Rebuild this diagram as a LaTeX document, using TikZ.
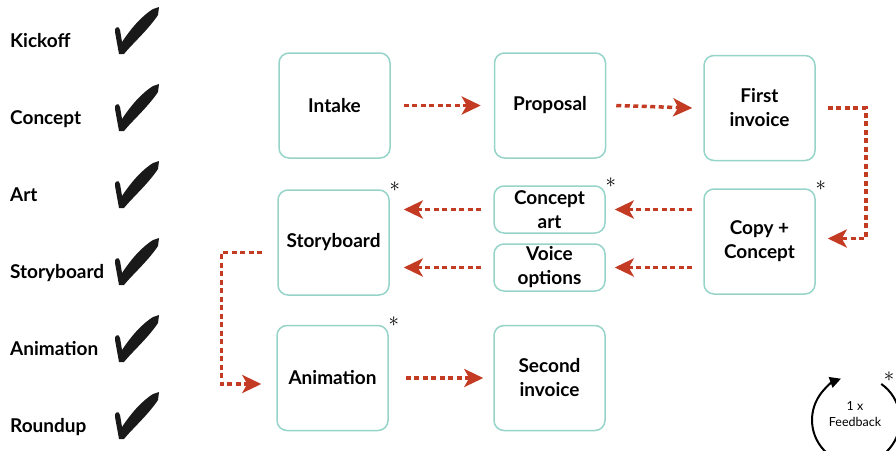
\documentclass[tikz,border=0pt]{standalone}
\usepackage{fontspec}
\setmainfont{Lato}
\usetikzlibrary{arrows.meta}
\definecolor{boxteal}{RGB}{150,212,202}
\definecolor{flowred}{RGB}{194,59,34}
\tikzset{tick/.pic={
\fill[black!90] (-1,2) -- (-5,-20) .. controls (-6,-25) and (-1,-27) .. (0,-22) -- (2,-10)
  .. controls (12,-25) and (22,-36) .. (33,-43) -- (39,-45) -- (38,-37)
  .. controls (28,-22) and (12,-8) .. (4,2) -- cycle;
}}

\begin{document}
\begin{tikzpicture}[x=1pt,y=-1pt,>=Stealth,
box node/.style={rectangle,draw=boxteal,line width=1.5pt,rounded corners=10pt,minimum width=111pt,minimum height=105pt,align=center,font=\fontsize{19}{24}\selectfont\bfseries},
small node/.style={box node,minimum height=47pt,inner sep=1pt},
stage label/.style={anchor=base west,inner sep=0pt,font=\fontsize{19}{22}\selectfont\bfseries},
star node/.style={inner sep=0pt,font=\fontsize{22}{22}\selectfont},
flow/.style={draw=flowred,line width=3.5pt,dash pattern=on 5pt off 3.5pt,-{Stealth[length=19pt,width=18pt,inset=5pt]}}]
\useasboundingbox (0,0) rectangle (896,450);
\foreach \name [count=\i] in {Kickoff,Concept,Art,Storyboard,Animation,Roundup} {
  \node[stage label] (l\i) at (10,{47+77*(\i-1)}) {\name};
  \pic at (120,{52+77*(\i-1)}) {tick};
}
\node[box node] (1) at (334.5,105.5) {Intake};
\node[box node] (2) at (550,105.5) {Proposal};
\node[box node] (3) at (759.5,108) {First\\invoice};
\node[box node] (4) at (759.5,241.5) {Copy +\\Concept};
\node[small node] (5) at (549.5,209.5) {Concept\\art};
\node[small node] (6) at (549.5,267.5) {Voice\\options};
\node[box node] (7) at (333.5,242.5) {Storyboard};
\node[box node] (8) at (332.5,378) {Animation};
\node[box node] (9) at (549.5,378) {Second\\invoice};
\foreach \n in {4,5,7,8}
  \node[star node] (star\n) at ([xshift=5pt,yshift=3pt]\n.north east) {$\ast$};
\draw[flow] ([xshift=13pt]1.east) -- ([xshift=-13pt]2.west);
\draw[flow] ([xshift=10pt]2.east) -- ([xshift=-11pt]3.west);
\draw[flow] ([xshift=12pt]3.east) -| ([xshift=50pt,yshift=3pt]4.east) -- ([xshift=12pt,yshift=3pt]4.east);
\draw[flow] ([xshift=-11pt]4.west |- 5.east) -- ([xshift=9pt]5.east);
\draw[flow] ([xshift=-11pt]4.west |- 6.east) -- ([xshift=9pt]6.east);
\draw[flow] ([xshift=-12pt]5.west) -- ([xshift=14pt]7.east |- 5.west);
\draw[flow] ([xshift=-12pt]6.west) -- ([xshift=14pt]7.east |- 6.west);
\draw[flow] ([xshift=-15pt,yshift=-10pt]7.west) -| ([xshift=-55pt,yshift=-6pt]8.west) -- ([xshift=-15pt,yshift=-6pt]8.west);
\draw[flow] ([xshift=17pt]8.east) -- ([xshift=-10pt]9.west);
\node[align=center,font=\fontsize{12.5}{16}\selectfont] (fb) at (855,414) {1 x\\Feedback};
\coordinate (loop) at (856,420);
\draw[line width=2pt,-{Triangle[length=11pt,width=11pt]}] (loop) ++(-55:44) arc[start angle=-55,end angle=250,radius=44];
\node[star node] (starfb) at (889,377) {$\ast$};
\end{tikzpicture}
\end{document}
